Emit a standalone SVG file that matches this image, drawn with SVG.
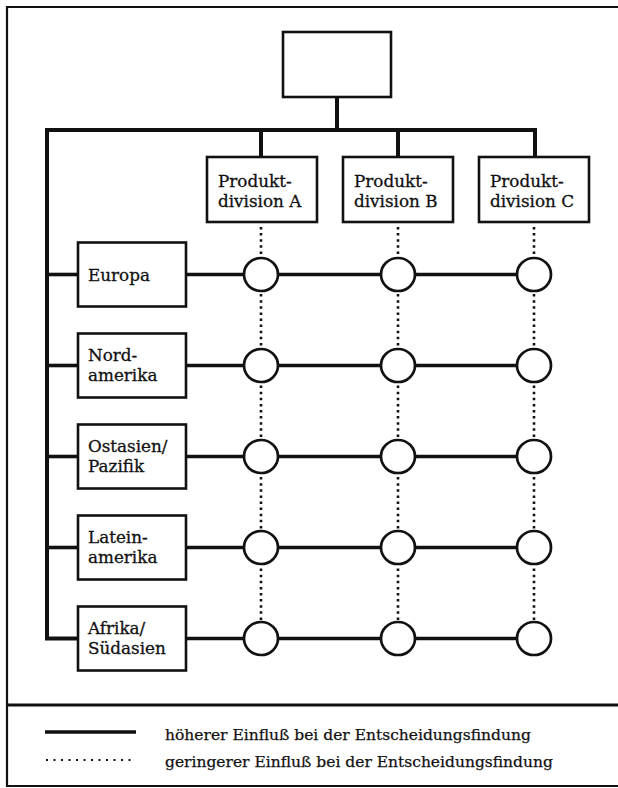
<svg xmlns="http://www.w3.org/2000/svg" width="618" height="788" viewBox="0 0 618 788">
  <style>
    .frame { fill: none; stroke: #111; stroke-width: 2.2; }
    .box { fill: #fff; stroke: #111; stroke-width: 2.6; }
    .node { fill: #fff; stroke: #111; stroke-width: 2.7; }
    .main { fill: none; stroke: #111; stroke-width: 4; stroke-linejoin: miter; stroke-linecap: square; }
    .row { fill: none; stroke: #111; stroke-width: 3.6; }
    .dot { fill: none; stroke: #111; stroke-width: 2.6; stroke-dasharray: 2.5 3.6; }
    .ldot { fill: none; stroke: #111; stroke-width: 2.2; stroke-dasharray: 2 5.5; }
    .lbl { font-family: "DejaVu Serif", "Liberation Serif", serif; font-size: 16.8px; fill: #111; stroke: #111; stroke-width: 0.3; }
    .leg { font-family: "DejaVu Serif", "Liberation Serif", serif; font-size: 15.5px; fill: #111; stroke: #111; stroke-width: 0.25; }
  </style>

  <!-- frame -->
  <g id="frame">
    <path class="frame" d="M640 7 H7 V786 H640"/>
    <path d="M7 705 H640" fill="none" stroke="#111" stroke-width="3.2"/>
  </g>

  <!-- connectors -->
  <g id="connectors">
    <path class="main" d="M337 97 V130"/>
    <path class="main" d="M535 157 V130 H47 V638.5 H78"/>
    <path class="main" d="M261 130 V157"/>
    <path class="main" d="M398 130 V157"/>
    <path class="row" d="M47 274.5 H78"/>
    <path class="row" d="M47 365.5 H78"/>
    <path class="row" d="M47 456.5 H78"/>
    <path class="row" d="M47 547.5 H78"/>
    <path class="row" d="M186 274.5 H534"/>
    <path class="row" d="M186 365.5 H534"/>
    <path class="row" d="M186 456.5 H534"/>
    <path class="row" d="M186 547.5 H534"/>
    <path class="row" d="M186 638.5 H534"/>
    <path class="dot" d="M261 227 V624"/>
    <path class="dot" d="M398 227 V624"/>
    <path class="dot" d="M534 227 V624"/>
  </g>

  <!-- top node -->
  <g id="top">
    <rect class="box" x="283" y="32" width="108" height="65"/>
  </g>

  <!-- product divisions -->
  <g id="divA">
    <rect class="box" x="207" y="157" width="110" height="65"/>
    <text class="lbl" x="218" y="187">Produkt-</text>
    <text class="lbl" x="218" y="207">division A</text>
  </g>
  <g id="divB">
    <rect class="box" x="343" y="157" width="110" height="65"/>
    <text class="lbl" x="354" y="187">Produkt-</text>
    <text class="lbl" x="354" y="207">division B</text>
  </g>
  <g id="divC">
    <rect class="box" x="479" y="157" width="110" height="65"/>
    <text class="lbl" x="490" y="187">Produkt-</text>
    <text class="lbl" x="490" y="207">division C</text>
  </g>

  <!-- regions -->
  <g id="europa">
    <rect class="box" x="78" y="242.5" width="108" height="64"/>
    <text class="lbl" x="88" y="281">Europa</text>
  </g>
  <g id="nordamerika">
    <rect class="box" x="78" y="333.5" width="108" height="64"/>
    <text class="lbl" x="88" y="360.5">Nord-</text>
    <text class="lbl" x="88" y="381">amerika</text>
  </g>
  <g id="ostasien">
    <rect class="box" x="78" y="424.5" width="108" height="64"/>
    <text class="lbl" x="88" y="451.5">Ostasien/</text>
    <text class="lbl" x="88" y="472">Pazifik</text>
  </g>
  <g id="lateinamerika">
    <rect class="box" x="78" y="515.5" width="108" height="64"/>
    <text class="lbl" x="88" y="542.5">Latein-</text>
    <text class="lbl" x="88" y="563">amerika</text>
  </g>
  <g id="afrika">
    <rect class="box" x="78" y="606.5" width="108" height="64"/>
    <text class="lbl" x="88" y="633.5">Afrika/</text>
    <text class="lbl" x="88" y="654">Südasien</text>
  </g>

  <!-- matrix nodes -->
  <g id="n-eu-a"><ellipse class="node" cx="261" cy="274.5" rx="17" ry="16.5"/></g>
  <g id="n-eu-b"><ellipse class="node" cx="398" cy="274.5" rx="17" ry="16.5"/></g>
  <g id="n-eu-c"><ellipse class="node" cx="534" cy="274.5" rx="17" ry="16.5"/></g>
  <g id="n-na-a"><ellipse class="node" cx="261" cy="365.5" rx="17" ry="16.5"/></g>
  <g id="n-na-b"><ellipse class="node" cx="398" cy="365.5" rx="17" ry="16.5"/></g>
  <g id="n-na-c"><ellipse class="node" cx="534" cy="365.5" rx="17" ry="16.5"/></g>
  <g id="n-oa-a"><ellipse class="node" cx="261" cy="456.5" rx="17" ry="16.5"/></g>
  <g id="n-oa-b"><ellipse class="node" cx="398" cy="456.5" rx="17" ry="16.5"/></g>
  <g id="n-oa-c"><ellipse class="node" cx="534" cy="456.5" rx="17" ry="16.5"/></g>
  <g id="n-la-a"><ellipse class="node" cx="261" cy="547.5" rx="17" ry="16.5"/></g>
  <g id="n-la-b"><ellipse class="node" cx="398" cy="547.5" rx="17" ry="16.5"/></g>
  <g id="n-la-c"><ellipse class="node" cx="534" cy="547.5" rx="17" ry="16.5"/></g>
  <g id="n-af-a"><ellipse class="node" cx="261" cy="638.5" rx="17" ry="16.5"/></g>
  <g id="n-af-b"><ellipse class="node" cx="398" cy="638.5" rx="17" ry="16.5"/></g>
  <g id="n-af-c"><ellipse class="node" cx="534" cy="638.5" rx="17" ry="16.5"/></g>

  <!-- legend -->
  <g id="legend">
    <path d="M45 732 H136" fill="none" stroke="#111" stroke-width="3.4"/>
    <path class="ldot" d="M46 760 H136"/>
    <text class="leg" x="165" y="740">höherer Einfluß bei der Entscheidungsfindung</text>
    <text class="leg" x="165" y="767">geringerer Einfluß bei der Entscheidungsfindung</text>
  </g>
</svg>
